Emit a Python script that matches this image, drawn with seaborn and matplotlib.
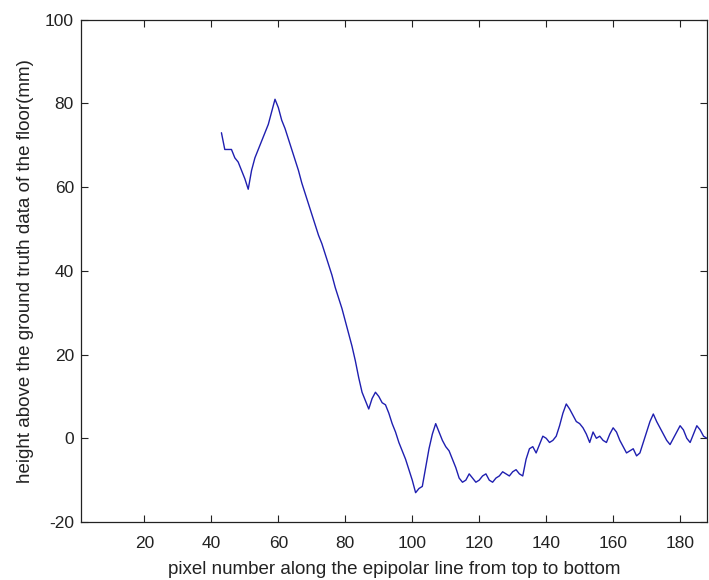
import numpy as np
import pandas as pd
import matplotlib
matplotlib.use("Agg")
import matplotlib.pyplot as plt
import seaborn as sns

# pixel index along the epipolar line
pixel = list(range(43, 189))

# height above the floor ground truth (mm), one value per pixel
height = [
    73, 69, 69, 69, 67, 66, 64, 62, 59.5, 64,
    67, 69, 71, 73, 75, 78, 81, 79, 76, 74,
    71.5, 69, 66.5, 64, 61, 58.5, 56, 53.5, 51, 48.5,
    46.5, 44, 41.5, 39, 36, 33.5, 31, 28, 25, 22,
    18.5, 14.5, 11, 9, 7, 9.5, 11, 10, 8.5, 8,
    6, 3.5, 1.5, -1, -3, -5, -7.5, -10, -13, -12,
    -11.5, -7, -2.5, 1, 3.5, 1.5, -0.5, -2, -3, -5,
    -7, -9.5, -10.5, -10, -8.5, -9.5, -10.5, -10, -9, -8.5,
    -10, -10.5, -9.5, -9, -8, -8.5, -9, -8, -7.5, -8.5,
    -9, -5, -2.5, -2, -3.5, -1.5, 0.5, 0, -1, -0.5,
    0.5, 3, 6, 8.2, 7, 5.5, 4, 3.5, 2.5, 1,
    -1, 1.5, 0, 0.5, -0.5, -1, 1, 2.5, 1.5, -0.5,
    -2, -3.5, -3, -2.5, -4.2, -3.5, -1, 1.5, 4, 5.8,
    4, 2.5, 1, -0.5, -1.5, 0, 1.5, 3, 2, 0,
    -1, 1, 3, 2, 0.5, 0,
]

x_ticks = [20, 40, 60, 80, 100, 120, 140, 160, 180]
y_ticks = [-20, 0, 20, 40, 60, 80, 100]

sns.set_theme(style="ticks")
plt.rcParams["font.family"] = ["Liberation Sans", "DejaVu Sans"]
plt.rcParams["axes.unicode_minus"] = False

df = pd.DataFrame({"pixel": pixel, "height": height})

fig = plt.figure(figsize=(7.09, 5.80), dpi=100)
ax = fig.add_axes([0.114, 0.100, 0.883, 0.866])

sns.lineplot(data=df, x="pixel", y="height", ax=ax, color="#1f1fb0",
             linewidth=1.0, estimator=None)

ax.set_xlim(1, 188)
ax.set_ylim(-20, 100)
ax.set_xticks(x_ticks)
ax.set_yticks(y_ticks)
ax.tick_params(direction="in", length=5, width=0.8, top=True, right=True,
               labelsize=12.5, colors="#222222")
ax.tick_params(axis="x", pad=10)
ax.tick_params(axis="y", pad=5)
for s in ax.spines.values():
    s.set_visible(True)
    s.set_linewidth(0.9)
    s.set_color("#222222")

ax.set_xlabel("pixel number along the epipolar line from top to bottom",
              fontsize=13.5, color="#222222", labelpad=7)
ax.set_ylabel("height above the ground truth data of the floor(mm)",
              fontsize=13.5, color="#222222", labelpad=8)

fig.savefig("out.png", dpi=100, facecolor="white")
